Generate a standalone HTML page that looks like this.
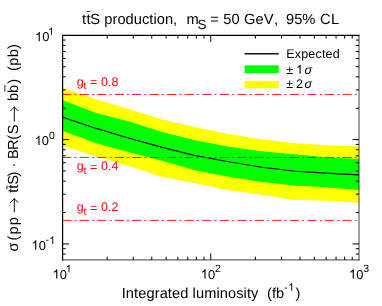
<!DOCTYPE html>
<html><head><meta charset="utf-8"><title>ttS production</title>
<style>
html,body{margin:0;padding:0;background:#fff;}
svg{display:block;will-change:transform;}
text{font-family:"Liberation Sans",sans-serif;fill:#000;text-rendering:geometricPrecision;}
.r{fill:#ff0000;}
</style></head><body>
<svg width="382" height="306" viewBox="0 0 382 306">
<rect x="0" y="0" width="382" height="306" fill="#ffffff"/>

<polygon points="62.50,87.70 95.44,98.90 128.39,109.10 161.33,119.20 194.28,127.10 227.22,133.80 260.17,139.30 293.11,143.10 326.06,145.20 359.00,146.50 359.00,202.80 326.06,200.80 293.11,199.70 260.17,194.60 227.22,189.90 194.28,183.00 161.33,176.80 128.39,165.80 95.44,156.30 62.50,145.70" fill="#ffff00"/>
<polygon points="62.50,99.90 95.44,112.70 128.39,121.15 161.33,131.85 194.28,139.90 227.22,146.50 260.17,151.00 293.11,154.30 326.06,157.30 359.00,158.90 359.00,190.00 326.06,187.20 293.11,185.60 260.17,181.85 227.22,176.60 194.28,169.90 161.33,160.50 128.39,151.95 95.44,142.90 62.50,130.80" fill="#00ff00"/>
<polyline points="62.50,117.10 95.44,128.20 128.39,138.00 161.33,147.20 194.28,155.30 227.22,161.50 260.17,167.00 293.11,171.00 326.06,173.20 359.00,174.90" fill="none" stroke="#000" stroke-width="1.2"/>
<line x1="62.5" y1="94.45" x2="357.8" y2="94.45" stroke="#ff0000" stroke-width="0.9" stroke-dasharray="9.14 3.22 1.95 3.21" stroke-dashoffset="0.4"/>
<line x1="62.5" y1="157.45" x2="357.8" y2="157.45" stroke="#ff0000" stroke-width="0.9" stroke-dasharray="9.14 3.22 1.95 3.21" stroke-dashoffset="0.4"/>
<line x1="62.5" y1="220.4" x2="357.8" y2="220.4" stroke="#ff0000" stroke-width="0.9" stroke-dasharray="9.14 3.22 1.95 3.21" stroke-dashoffset="0.4"/>
<line x1="62.0" y1="259.9" x2="359.5" y2="259.9" stroke="#000" stroke-opacity="0.75" stroke-width="1"/>
<line x1="359.0" y1="34.9" x2="359.0" y2="260.4" stroke="#000" stroke-opacity="0.75" stroke-width="1"/>
<line x1="62.6" y1="34.8" x2="62.6" y2="260.4" stroke="#000" stroke-width="1.2"/>
<line x1="62.0" y1="35.35" x2="359.5" y2="35.35" stroke="#000" stroke-width="1.05"/>
<path d="M107.13,259.9v-3.2M107.13,35.4v3.2M133.23,259.9v-3.2M133.23,35.4v3.2M151.76,259.9v-3.2M151.76,35.4v3.2M166.12,259.9v-3.2M166.12,35.4v3.2M177.86,259.9v-3.2M177.86,35.4v3.2M187.79,259.9v-3.2M187.79,35.4v3.2M196.38,259.9v-3.2M196.38,35.4v3.2M203.97,259.9v-3.2M203.97,35.4v3.2M210.75,259.9v-6.5M210.75,35.4v6.5M255.38,259.9v-3.2M255.38,35.4v3.2M281.48,259.9v-3.2M281.48,35.4v3.2M300.01,259.9v-3.2M300.01,35.4v3.2M314.37,259.9v-3.2M314.37,35.4v3.2M326.11,259.9v-3.2M326.11,35.4v3.2M336.04,259.9v-3.2M336.04,35.4v3.2M344.63,259.9v-3.2M344.63,35.4v3.2M352.22,259.9v-3.2M352.22,35.4v3.2M62.5,254.03h3.2M359.0,254.03h-3.2M62.5,248.69h3.2M359.0,248.69h-3.2M62.5,243.92h6.5M359.0,243.92h-6.5M62.5,212.52h3.2M359.0,212.52h-3.2M62.5,194.16h3.2M359.0,194.16h-3.2M62.5,181.13h3.2M359.0,181.13h-3.2M62.5,171.02h3.2M359.0,171.02h-3.2M62.5,162.76h3.2M359.0,162.76h-3.2M62.5,155.78h3.2M359.0,155.78h-3.2M62.5,149.73h3.2M359.0,149.73h-3.2M62.5,144.39h3.2M359.0,144.39h-3.2M62.5,139.62h6.5M359.0,139.62h-6.5M62.5,108.22h3.2M359.0,108.22h-3.2M62.5,89.86h3.2M359.0,89.86h-3.2M62.5,76.83h3.2M359.0,76.83h-3.2M62.5,66.72h3.2M359.0,66.72h-3.2M62.5,58.46h3.2M359.0,58.46h-3.2M62.5,51.48h3.2M359.0,51.48h-3.2M62.5,45.43h3.2M359.0,45.43h-3.2M62.5,40.09h3.2M359.0,40.09h-3.2" stroke="#000" stroke-width="1" fill="none"/>
<line x1="244.6" y1="53.8" x2="278.7" y2="53.8" stroke="#111" stroke-width="1.4"/>
<rect x="244.6" y="65.3" width="34.1" height="7.7" fill="#00ff00"/>
<rect x="244.6" y="80.8" width="34.1" height="7.5" fill="#ffff00"/>
<text x="286.3" y="57.6" font-size="12.5" textLength="53.3" lengthAdjust="spacing">Expected</text>
<text x="286.3" y="73.7" font-size="12.5">±</text><path d="M763 0H583V1147Q518 1085 412.5 1023Q307 961 223 930V1104Q374 1175 487 1276Q600 1377 647 1472H763Z" transform="translate(296.00,73.70) scale(0.00610,-0.00610)"/><text x="304.6" y="73.7" font-size="12.5" font-style="italic">σ</text>
<text x="286.3" y="88.2" font-size="12.5">±</text><text x="296.0" y="88.2" font-size="12.5">2</text><text x="304.6" y="88.2" font-size="12.5" font-style="italic">σ</text>
<text x="76.8" y="85.6" font-size="12.5" class="r">g</text><text x="83.5" y="88.89999999999999" font-size="10.5" class="r">t</text><text x="90.1" y="86.3" font-size="12.5" class="r">=</text><text x="101.0" y="85.6" font-size="12.5" class="r">0.8</text>
<text x="76.8" y="170.2" font-size="12.5" class="r">g</text><text x="83.5" y="173.5" font-size="10.5" class="r">t</text><text x="90.1" y="170.89999999999998" font-size="12.5" class="r">=</text><text x="101.0" y="170.2" font-size="12.5" class="r">0.4</text>
<text x="76.8" y="211.3" font-size="12.5" class="r">g</text><text x="83.5" y="214.60000000000002" font-size="10.5" class="r">t</text><text x="90.1" y="212.0" font-size="12.5" class="r">=</text><text x="101.0" y="211.3" font-size="12.5" class="r">0.2</text>
<text x="82.0" y="24.1" font-size="14.7">t</text><text x="86.45" y="24.1" font-size="14.7">t</text><text x="90.2" y="24.1" font-size="14.7">S</text>
<line x1="86.9" y1="11.5" x2="90.4" y2="11.5" stroke="#000" stroke-width="0.75"/>
<text x="104.3" y="24.1" font-size="14.7" textLength="72.9" lengthAdjust="spacing">production,</text>
<text x="186.4" y="23.8" font-size="14.7">m</text>
<text x="197.5" y="28.5" font-size="13.4">S</text>
<text x="210.2" y="24.1" font-size="14.7">=</text>
<text x="223.3" y="24.1" font-size="14.7">50</text>
<text x="243.9" y="24.1" font-size="14.7" textLength="29.7" lengthAdjust="spacing">GeV</text><text x="274.0" y="24.1" font-size="14.7">,</text>
<text x="286.0" y="24.1" font-size="14.7">95%</text>
<text x="319.95" y="24.1" font-size="14.7" textLength="19.2" lengthAdjust="spacing">CL</text>
<path d="M763 0H583V1147Q518 1085 412.5 1023Q307 961 223 930V1104Q374 1175 487 1276Q600 1377 647 1472H763Z" transform="translate(35.00,41.30) scale(0.00630,-0.00630)"/><text x="42.1724" y="41.3" font-size="12.9">0</text><path d="M763 0H583V1147Q518 1085 412.5 1023Q307 961 223 930V1104Q374 1175 487 1276Q600 1377 647 1472H763Z" transform="translate(48.10,35.00) scale(0.00513,-0.00513)"/>
<path d="M763 0H583V1147Q518 1085 412.5 1023Q307 961 223 930V1104Q374 1175 487 1276Q600 1377 647 1472H763Z" transform="translate(34.70,145.10) scale(0.00630,-0.00630)"/><text x="41.872400000000006" y="145.1" font-size="12.9">0</text><text x="49.00000000000001" y="138.79999999999998" font-size="10.5">0</text>
<path d="M763 0H583V1147Q518 1085 412.5 1023Q307 961 223 930V1104Q374 1175 487 1276Q600 1377 647 1472H763Z" transform="translate(31.50,249.60) scale(0.00630,-0.00630)"/><text x="38.6724" y="249.6" font-size="12.9">0</text><text x="45.6" y="242.6" font-size="10.5">-</text><path d="M763 0H583V1147Q518 1085 412.5 1023Q307 961 223 930V1104Q374 1175 487 1276Q600 1377 647 1472H763Z" transform="translate(49.30,243.90) scale(0.00513,-0.00513)"/>
<path d="M763 0H583V1147Q518 1085 412.5 1023Q307 961 223 930V1104Q374 1175 487 1276Q600 1377 647 1472H763Z" transform="translate(52.50,278.60) scale(0.00630,-0.00630)"/><text x="59.6724" y="278.6" font-size="12.9">0</text><path d="M763 0H583V1147Q518 1085 412.5 1023Q307 961 223 930V1104Q374 1175 487 1276Q600 1377 647 1472H763Z" transform="translate(65.60,272.30) scale(0.00513,-0.00513)"/>
<path d="M763 0H583V1147Q518 1085 412.5 1023Q307 961 223 930V1104Q374 1175 487 1276Q600 1377 647 1472H763Z" transform="translate(200.75,278.60) scale(0.00630,-0.00630)"/><text x="207.9224" y="278.6" font-size="12.9">0</text><text x="215.04999999999998" y="272.3" font-size="10.5">2</text>
<path d="M763 0H583V1147Q518 1085 412.5 1023Q307 961 223 930V1104Q374 1175 487 1276Q600 1377 647 1472H763Z" transform="translate(349.00,278.60) scale(0.00630,-0.00630)"/><text x="356.1724" y="278.6" font-size="12.9">0</text><text x="363.3" y="272.3" font-size="10.5">3</text>
<text x="121.7" y="297.6" font-size="14.6" textLength="136.7" lengthAdjust="spacing">Integrated luminosity</text>
<text x="267.1" y="297.6" font-size="14.6">(fb</text>
<text x="283.9" y="290.6" font-size="11">-</text><path d="M763 0H583V1147Q518 1085 412.5 1023Q307 961 223 930V1104Q374 1175 487 1276Q600 1377 647 1472H763Z" transform="translate(288.10,290.80) scale(0.00537,-0.00537)"/>
<text x="295.4" y="297.6" font-size="14.6">)</text>
<g transform="translate(18.3,251.4) rotate(-90)"><text x="0" y="0" font-size="14.6">σ</text><text x="10.9" y="0" font-size="14.6">(</text><text x="16.8" y="0" font-size="14.6" textLength="17.4" lengthAdjust="spacing">pp</text><path d="M39.5,-4.0H52.7M48.900000000000006,-7.7L52.7,-4.0L48.900000000000006,-0.2999999999999998" fill="none" stroke="#000" stroke-width="0.95" stroke-linecap="round" stroke-linejoin="miter"/><text x="58.6" y="0" font-size="14.6">tt</text><line x1="62.2" y1="-11.3" x2="65.9" y2="-11.3" stroke="#000" stroke-width="0.9"/><text x="66.7" y="0" font-size="14.6">S</text><text x="75.0" y="0" font-size="14.6">)</text><text x="83.8" y="0" font-size="14.6">·</text><text x="92.3" y="0" font-size="14.6">B</text><text x="101.3" y="0" font-size="14.6">R</text><text x="111.7" y="0" font-size="14.6">(</text><text x="117.2" y="0" font-size="14.6">S</text><path d="M130.3,-4.0H144.4M140.6,-7.7L144.4,-4.0L140.6,-0.2999999999999998" fill="none" stroke="#000" stroke-width="0.95" stroke-linecap="round" stroke-linejoin="miter"/><text x="150.3" y="0" font-size="14.6">bb</text><line x1="159.7" y1="-13.4" x2="166.4" y2="-13.4" stroke="#000" stroke-width="0.9"/><text x="167.6" y="0" font-size="14.6">)</text><text x="180.4" y="0" font-size="14.6" textLength="27.0" lengthAdjust="spacing">(pb)</text></g>
</svg></body></html>
